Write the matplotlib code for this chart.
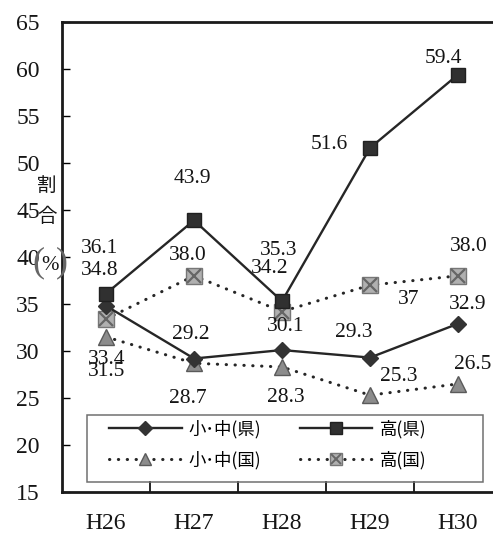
import numpy as np
import matplotlib
matplotlib.use('Agg')
import matplotlib.pyplot as plt
from matplotlib.lines import Line2D
from matplotlib.patches import Rectangle

plt.rcParams['font.family'] = ['Liberation Serif', 'Noto Sans CJK JP']

years = ['H26', 'H27', 'H28', 'H29', 'H30']
sho_ken = [34.8, 29.2, 30.1, 29.3, 32.9]   # 小・中(県)
ko_ken = [36.1, 43.9, 35.3, 51.6, 59.4]    # 高(県)
sho_kuni = [31.5, 28.7, 28.3, 25.3, 26.5]  # 小・中(国)
ko_kuni = [33.4, 38.0, 34.2, 37, 38.0]     # 高(国)
ko_kuni_txt = ['33.4', '38.0', '34.2', '37', '38.0']

# label offsets (pixels) from each point
off_sho_ken = [(-6, 35), (-3, 24), (4, 24), (-16, 25), (10, 19)]
off_ko_ken = [(-6, 45), (-2, 42), (-3, 51), (-41, 3), (-15, 16)]
off_sho_kuni = [(1, -35), (-6, -35), (4, -31), (29, 19), (15, 19)]
off_ko_kuni = [(1, -40), (-6, 20), (-12, 43), (39, -14), (11, 29)]

line_c = '#262626'
txt_c = '#151515'
fig = plt.figure(figsize=(4.93, 5.36), dpi=100)
ax = fig.add_axes([62/493, 44/536, 440/493, 470/536])
x = np.arange(len(years))

dots = dict(linestyle=(0, (0.1, 2.8)), dash_capstyle='round', lw=2.2, color=line_c)

ax.plot(x, sho_kuni, marker='^', ms=12, mfc='#8c8c8c', mec='#5a5a5a', **dots)
ax.plot(x, ko_kuni, marker='s', ms=11, mfc='#b0b0b0', mec='#777777', **dots)
ax.plot(x, ko_kuni, ls='none', marker='x', ms=10, mew=1.6, color='#666666')
ax.plot(x, sho_ken, color=line_c, lw=1.7, marker='D', ms=8, mfc='#333333', mec='#333333')
ax.plot(x, ko_ken, color=line_c, lw=1.7, marker='s', ms=10, mfc='#303030', mec='#202020')

def put_labels(vals, offs, txts=None):
    for i, v in enumerate(vals):
        t = txts[i] if txts else f'{v:.1f}'
        ax.annotate(t, (x[i], v), xytext=offs[i], textcoords='offset pixels',
                    ha='center', va='center', fontsize=15.5, color=txt_c)

put_labels(sho_ken, off_sho_ken)
put_labels(ko_ken, off_ko_ken)
put_labels(sho_kuni, off_sho_kuni)
put_labels(ko_kuni, off_ko_kuni, ko_kuni_txt)

ax.set_xlim(-0.5, 4.5)
ax.set_ylim(15, 65)
ax.set_yticks(np.arange(15, 66, 5))
ax.tick_params(axis='y', direction='in', length=6, width=1, pad=16, labelsize=17,
               labelcolor=txt_c)
ax.set_xticks(x)
ax.set_xticklabels(years)
ax.tick_params(axis='x', which='major', length=0, pad=15, labelsize=17, labelcolor=txt_c)
ax.set_xticks([0.5, 1.5, 2.5, 3.5], minor=True)
ax.tick_params(axis='x', which='minor', direction='in', length=8, width=1.2)
for s in ['left', 'bottom', 'top', 'right']:
    ax.spines[s].set_linewidth(2)
    ax.spines[s].set_color('#1a1a1a')

# legend
h1 = Line2D([], [], color=line_c, lw=1.7, marker='D', ms=7, mfc='#333333', mec='#333333')
h2 = Line2D([], [], color=line_c, lw=1.7, marker='s', ms=8, mfc='#303030', mec='#202020')
h3 = Line2D([], [], marker='^', ms=9, mfc='#8c8c8c', mec='#5a5a5a', **dots)
h4a = Line2D([], [], marker='s', ms=8, mfc='#b0b0b0', mec='#777777', **dots)
h4b = Line2D([], [], ls='none', marker='x', ms=7, mew=1.4, color='#666666')
ax.legend([h1, h3, h2, (h4a, h4b)], ['小･中(県)', '小･中(国)', '高(県)', '高(国)'],
          ncol=2, loc='center left', bbox_to_anchor=(0.071, 0.101), frameon=False,
          handlelength=4.2, handletextpad=0.4, columnspacing=2.2, labelspacing=0.72,
          prop={'family': ['Noto Sans CJK JP'], 'size': 12.5})
ax.add_patch(Rectangle((25/440, 10/470), 396/440, 67/470, transform=ax.transAxes,
                       fill=False, ec='#707070', lw=1.1, zorder=5))

# y axis caption
fig.text(47/493, 1 - 185/536, '割', ha='center', va='center', fontsize=14,
         family=['Noto Sans CJK JP'], color=txt_c)
fig.text(47/493, 1 - 217/536, '合', ha='center', va='center', fontsize=14,
         family=['Noto Sans CJK JP'], color=txt_c)
fig.text(50/493, 1 - 265/536, '%', ha='center', va='center', fontsize=15, color=txt_c)
fig.text(38/493, 1 - 263/536, '(', ha='center', va='center', fontsize=26, color='#666666')
fig.text(62/493, 1 - 263/536, ')', ha='center', va='center', fontsize=26, color='#666666')

fig.savefig('out.png', dpi=100)
